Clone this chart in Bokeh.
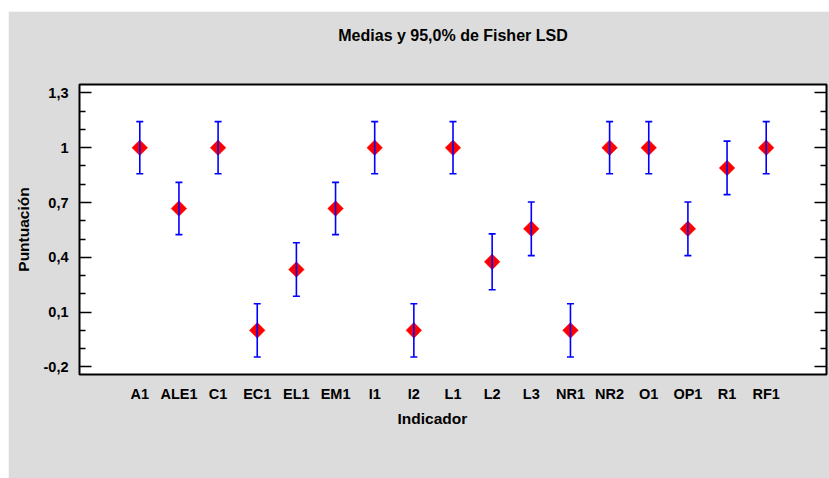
import math
from bokeh.plotting import figure
from bokeh.models import (ColumnDataSource, FactorRange, Range1d, FixedTicker, LinearAxis,
                          Whisker, TeeHead, Title, CustomJSTickFormatter)
from bokeh.embed import file_html
from bokeh.resources import INLINE

categories = ["A1", "ALE1", "C1", "EC1", "EL1", "EM1", "I1", "I2", "L1", "L2",
              "L3", "NR1", "NR2", "O1", "OP1", "R1", "RF1"]
means = [1.0, 0.667, 1.0, 0.0, 0.333, 0.667, 1.0, 0.0, 1.0, 0.375,
         0.556, 0.0, 1.0, 1.0, 0.556, 0.889, 1.0]
lower = [0.857, 0.524, 0.857, -0.146, 0.187, 0.524, 0.857, -0.146, 0.857, 0.222,
         0.409, -0.146, 0.857, 0.857, 0.409, 0.743, 0.857]
upper = [1.143, 0.810, 1.143, 0.146, 0.480, 0.810, 1.143, 0.146, 1.143, 0.528,
         0.703, 0.146, 1.143, 1.143, 0.703, 1.036, 1.143]
y_major_ticks = [-0.2, 0.1, 0.4, 0.7, 1.0, 1.3]
y_minor_ticks = [-0.1, 0.0, 0.2, 0.3, 0.5, 0.6, 0.8, 0.9, 1.1, 1.2]

title_text = "Medias y 95,0% de Fisher LSD"
x_label = "Indicador"
y_label = "Puntuación"

FONT = "Liberation Sans"
GRAY = "#dcdcdc"

src = ColumnDataSource(data=dict(cat=categories, mean=means, lower=lower, upper=upper))

p = figure(width=821, height=467, margin=(11, 0, 0, 8),
           x_range=FactorRange(factors=categories, range_padding=1.04,
                               range_padding_units="absolute"),
           y_range=Range1d(-0.2416, 1.346),
           output_backend="svg", toolbar_location=None, tools="",
           min_border_left=71, min_border_right=3, min_border_top=73, min_border_bottom=104)

p.title.visible = False
p.border_fill_color = GRAY
p.background_fill_color = "white"
p.outline_line_color = "black"
p.outline_line_width = 2
p.xgrid.visible = False
p.ygrid.visible = False

fmt = CustomJSTickFormatter(code="""
const s = (Math.round(tick*10)/10).toString();
return s.replace('.', ',');
""")
blank = CustomJSTickFormatter(code="return '';")

# left axis
ya = p.yaxis[0]
ya.ticker = FixedTicker(ticks=y_major_ticks, minor_ticks=y_minor_ticks)
ya.formatter = fmt
ya.axis_line_color = None
ya.major_tick_in = 12
ya.major_tick_out = 0
ya.minor_tick_in = 6
ya.minor_tick_out = 0
ya.major_tick_line_width = 1.5
ya.minor_tick_line_width = 1.5
ya.major_label_standoff = 11
ya.major_label_text_font = FONT
ya.major_label_text_font_style = "bold"
ya.major_label_text_font_size = "14.5px"
ya.major_label_text_color = "black"
ya.axis_label = y_label
ya.axis_label_text_font = FONT
ya.axis_label_text_font_style = "bold"
ya.axis_label_text_font_size = "15.5px"
ya.axis_label_text_color = "black"
ya.axis_label_standoff = 9

# right axis (ticks only)
ra = LinearAxis(ticker=FixedTicker(ticks=y_major_ticks, minor_ticks=y_minor_ticks),
                formatter=blank,
                axis_line_color=None, major_tick_in=12, major_tick_out=0,
                minor_tick_in=6, minor_tick_out=0, major_label_standoff=0,
                major_tick_line_width=1.5, minor_tick_line_width=1.5)
p.add_layout(ra, "right")

# bottom axis
xa = p.xaxis[0]
xa.axis_line_color = None
xa.major_tick_line_color = None
xa.minor_tick_line_color = None
xa.major_label_standoff = 5
xa.major_label_text_font = FONT
xa.major_label_text_font_style = "bold"
xa.major_label_text_font_size = "14.5px"
xa.major_label_text_color = "black"

# markers
p.scatter(x="cat", y="mean", source=src, marker="square", angle=math.pi / 4,
          size=11, fill_color="#ff0000", line_color="#ff0000", line_width=0.5)

# error bars
w = Whisker(source=src, base="cat", upper="upper", lower="lower", dimension="height",
            line_color="#0000ff", line_width=1.6, level="annotation",
            upper_head=TeeHead(size=7, line_color="#0000ff", line_width=1.6),
            lower_head=TeeHead(size=7, line_color="#0000ff", line_width=1.6))
p.add_layout(w)

# titles: a blank spacer next to the frame, then the chart title above it
p.add_layout(Title(text=" ", align="center", text_font=FONT, text_font_size="16px",
                   standoff=17), "above")
p.add_layout(Title(text=title_text, align="center", text_font=FONT, text_font_style="bold",
                   text_font_size="16px", text_color="black", standoff=10), "above")
p.add_layout(Title(text=x_label, align="left", offset=318, text_font=FONT,
                   text_font_style="bold", text_font_size="15.5px", text_color="black",
                   standoff=6), "below")

open("out.html", "w").write(file_html(p, INLINE))
